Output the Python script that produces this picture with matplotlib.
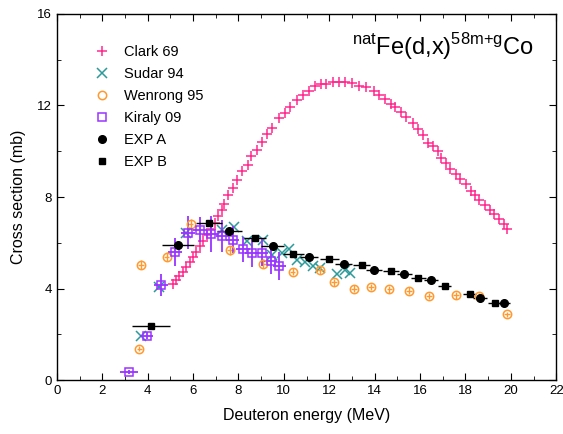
import numpy as np
import matplotlib
matplotlib.use('Agg')
import matplotlib.pyplot as plt
from matplotlib.ticker import MultipleLocator

plt.rcParams['font.family'] = ['Liberation Sans', 'DejaVu Sans']
plt.rcParams['mathtext.fontset'] = 'custom'
plt.rcParams['mathtext.rm'] = 'Liberation Sans'

# Clark 69
clark_e = [5.10, 5.25, 5.40, 5.55, 5.70, 5.85, 6.00, 6.15, 6.30, 6.45, 6.62, 6.80, 6.95,
           7.11, 7.26, 7.38, 7.55, 7.74, 7.95, 8.17, 8.41, 8.54, 8.83, 9.02, 9.25, 9.48,
           9.80, 10.04, 10.27, 10.57, 10.83, 11.11, 11.39, 11.64, 11.85, 12.18, 12.45,
           12.71, 13.01, 13.33, 13.62, 13.95, 14.20, 14.45, 14.71, 14.90, 15.15, 15.38,
           15.67, 15.90, 16.12, 16.37, 16.57, 16.79, 16.93, 17.15, 17.33, 17.59, 17.74,
           18.03, 18.25, 18.40, 18.59, 18.87, 19.09, 19.24, 19.50, 19.68, 19.84]
clark_s = [4.22, 4.38, 4.54, 4.74, 4.96, 5.18, 5.40, 5.62, 5.85, 6.08, 6.35, 6.62, 6.88,
           7.16, 7.42, 7.71, 8.10, 8.41, 8.76, 9.13, 9.40, 9.78, 10.04, 10.39, 10.74, 11.02,
           11.45, 11.69, 11.94, 12.26, 12.45, 12.62, 12.85, 12.93, 12.93, 13.03, 13.03,
           13.03, 12.96, 12.85, 12.81, 12.63, 12.47, 12.30, 12.08, 11.94, 11.72, 11.50,
           11.25, 10.99, 10.70, 10.38, 10.22, 10.00, 9.72, 9.49, 9.24, 9.02, 8.80,
           8.56, 8.27, 8.08, 7.89, 7.64, 7.42, 7.28, 7.03, 6.84, 6.62]

# Sudar 94
sudar_e = [3.69, 4.51, 5.69, 7.26, 7.82, 8.36, 9.07, 9.46, 9.91, 10.24, 10.57, 10.93,
           11.30, 11.60, 12.33, 12.70, 12.92]
sudar_s = [1.94, 4.05, 6.41, 6.58, 6.70, 6.07, 6.14, 5.46, 5.56, 5.75, 5.24, 5.17,
           4.98, 4.88, 4.66, 4.83, 4.68]

# Wenrong 95
wen_e = [3.63, 3.70, 4.84, 5.89, 7.63, 9.10, 10.39, 11.60, 12.21, 13.10, 13.84, 14.65,
         15.52, 16.40, 17.58, 18.60, 19.83]
wen_s = [1.38, 5.05, 5.39, 6.81, 5.68, 5.09, 4.73, 4.80, 4.28, 3.99, 4.07, 3.97,
         3.90, 3.68, 3.71, 3.67, 2.87]
wen_err = [0.12, 0.2, 0.2, 0.25, 0.2, 0.2, 0.15, 0.15, 0.15, 0.15, 0.15, 0.15,
           0.15, 0.15, 0.15, 0.15, 0.12]

# Kiraly 09
kir_e = [3.16, 3.95, 4.59, 5.20, 5.79, 6.31, 6.79, 7.29, 7.74, 8.19, 8.61, 9.02, 9.42, 9.80]
kir_s = [0.36, 1.94, 4.15, 5.60, 6.44, 6.58, 6.38, 6.29, 6.14, 5.72, 5.56, 5.57, 5.21, 4.98]
kir_xerr = [0.4, 0.3, 0.3, 0.3, 0.3, 0.3, 0.3, 0.3, 0.3, 0.3, 0.3, 0.3, 0.3, 0.3]
kir_yerr = [0.1, 0.15, 0.47, 0.6, 0.73, 0.55, 0.8, 0.7, 0.6, 0.55, 0.6, 0.6, 0.55, 0.6]

# EXP A
expa_e = [5.35, 7.60, 9.51, 11.11, 12.63, 13.99, 15.30, 16.49, 18.65, 19.68]
expa_s = [5.92, 6.52, 5.85, 5.39, 5.07, 4.80, 4.66, 4.39, 3.61, 3.36]
expa_xerr = [0.7, 0.55, 0.5, 0.4, 0.38, 0.35, 0.33, 0.3, 0.3, 0.3]

# EXP B
expb_e = [4.14, 6.72, 8.73, 10.42, 12.01, 13.43, 14.71, 15.93, 17.08, 18.18, 19.28]
expb_s = [2.37, 6.87, 6.19, 5.53, 5.31, 5.02, 4.76, 4.48, 4.10, 3.78, 3.39]
expb_xerr = [0.83, 0.57, 0.5, 0.45, 0.4, 0.38, 0.35, 0.33, 0.3, 0.3, 0.3]

pink = '#ff2a8f'
teal = '#2a9a9a'
orange = '#ff9a30'
purple = '#9a33ff'

fig = plt.figure(figsize=(5.63, 4.34), dpi=100)
ax = fig.add_axes([0.101, 0.124, 0.887, 0.844])

ax.plot(clark_e, clark_s, '+', color=pink, ms=7, mew=1.1, label='Clark 69')
ax.plot(sudar_e, sudar_s, 'x', color=teal, ms=7, mew=1.1, label='Sudar 94')
ax.errorbar(wen_e, wen_s, yerr=wen_err, xerr=0.12, fmt='o', color=orange, mfc='none',
            mec=orange, ms=6, mew=1.1, elinewidth=1, capsize=0, label='Wenrong 95')
ax.errorbar(kir_e, kir_s, yerr=kir_yerr, xerr=kir_xerr, fmt='s', color=purple, mfc='none',
            mec=purple, ms=6, mew=1.1, elinewidth=1.3, capsize=0, label='Kiraly 09')
ax.errorbar(expa_e, expa_s, xerr=expa_xerr, yerr=0.08, fmt='o', color='black', ms=5.5,
            elinewidth=1, capsize=0, label='EXP A')
ax.errorbar(expb_e, expb_s, xerr=expb_xerr, yerr=0.08, fmt='s', color='black', ms=5,
            elinewidth=1, capsize=0, label='EXP B')

ax.set_xlim(0, 22)
ax.set_ylim(0, 16)
ax.xaxis.set_major_locator(MultipleLocator(2))
ax.xaxis.set_minor_locator(MultipleLocator(1))
ax.yaxis.set_major_locator(MultipleLocator(4))
ax.yaxis.set_minor_locator(MultipleLocator(2))
ax.tick_params(which='both', direction='in', top=True, right=True, labelsize=9.5)
ax.tick_params(which='major', length=5)
ax.tick_params(which='minor', length=3)
for s in ax.spines.values():
    s.set_linewidth(1)

ax.set_xlabel('Deuteron energy (MeV)', fontsize=11.5, labelpad=8)
ax.set_ylabel('Cross section (mb)', fontsize=11.5, labelpad=8)

ax.text(0.955, 0.912, r'$^{\rm nat}$Fe(d,x)$^{\rm 58m{+}g}$Co', transform=ax.transAxes,
        ha='right', va='center', fontsize=17)

labels = ['Clark 69', 'Sudar 94', 'Wenrong 95', 'Kiraly 09', 'EXP A', 'EXP B']
handles = [ax.lines[0], ax.lines[1]] + [c[0] for c in ax.containers]
leg = ax.legend(handles=handles, labels=labels, loc='upper left',
                bbox_to_anchor=(0.065, 0.93), frameon=False, fontsize=10.5,
                handletextpad=1.0, labelspacing=0.55, handlelength=1.0,
                borderaxespad=0)

fig.savefig('out.png', dpi=100)
